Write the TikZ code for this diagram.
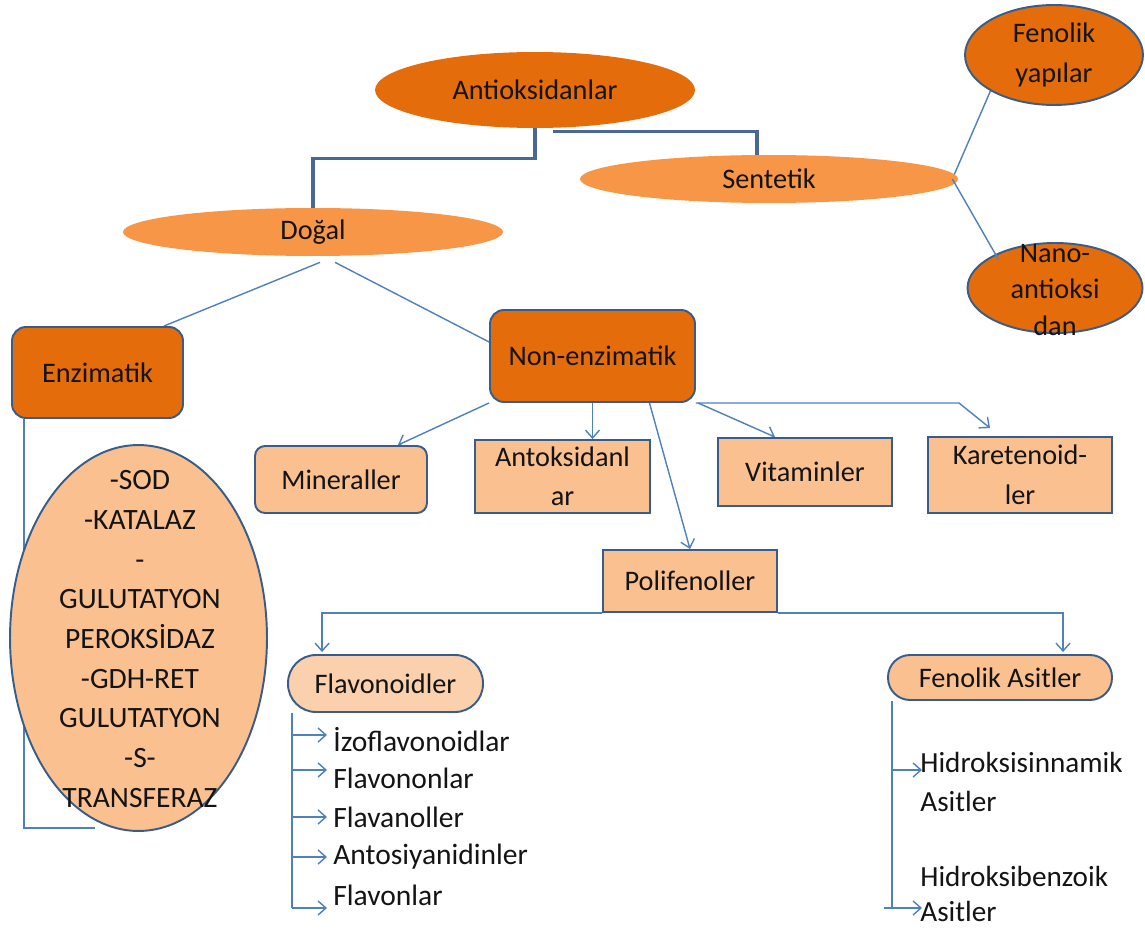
\documentclass[tikz,border=0pt]{standalone}
\usepackage{fontspec}
\setmainfont{Carlito}
\usetikzlibrary{shapes.geometric,arrows.meta,calc}
\definecolor{darkor}{HTML}{E46C0A}
\definecolor{midor}{HTML}{F79646}
\definecolor{lightor}{HTML}{FAC090}
\definecolor{paleor}{HTML}{FBD0AC}
\definecolor{bordc}{HTML}{385D8A}
\definecolor{linec}{HTML}{4F81BD}
\definecolor{trunkc}{HTML}{4A6896}
\pgfdeclarelayer{bg}
\pgfdeclarelayer{canvas}
\pgfsetlayers{canvas,bg,main}
\begin{document}
\begin{tikzpicture}[x=0.02cm,y=-0.02cm,
  every node/.style={font=\fontsize{16.1}{22.5}\selectfont, text=black!92},
  ell/.style={ellipse, inner sep=0pt, align=center},
  box/.style={rectangle, draw=bordc, line width=1.1pt, fill=lightor, inner sep=0pt, align=center},
  conn/.style={draw=linec, line width=0.8pt},
  arr/.style={conn, -{Straight Barb[length=4.5pt,width=8pt]}},
  mainconn/.style={draw=trunkc, line width=1.8pt},
  item/.style={anchor=west, inner sep=0pt, align=left},
  bigitem/.style={item, font=\fontsize{16.8}{22.5}\selectfont}
]
\begin{pgfonlayer}{canvas}
\fill[white] (0,0) rectangle (1145,932);
\end{pgfonlayer}
\useasboundingbox (0,0) rectangle (1145,932);

% top level
\node[ell, fill=darkor, minimum width=6.4cm, minimum height=1.52cm] (anti) at (535,90) {Antioksidanlar};
\node[ell, fill=midor, minimum width=7.56cm, minimum height=0.96cm] (sent) at (769,179) {Sentetik};
\node[ell, fill=midor, minimum width=7.6cm, minimum height=0.96cm] (dogal) at (313,232) {Doğal};
\node[ell, fill=darkor, draw=bordc, line width=1.1pt, minimum width=3.56cm, minimum height=2cm] (fenyap) at (1054,55) {Fenolik\\yapılar};
\node[ell, fill=darkor, draw=bordc, line width=1.1pt, minimum width=3.5cm, minimum height=1.8cm] (nano) at (1055,288) {};
\node[align=center, inner sep=0pt, font=\fontsize{16.1}{21}\selectfont] (nanotxt) at (1055,290) {Nano-\\antioksi\\dan};

% second level
\node[box, fill=darkor, rounded corners=0.28cm, minimum width=3.42cm, minimum height=1.82cm] (enz) at (97.5,372.5) {Enzimatik};
\node[box, fill=darkor, rounded corners=0.28cm, minimum width=4.1cm, minimum height=1.84cm] (nonenz) at (592.5,356) {Non-enzimatik};

% non-enzimatik children
\node[box, rounded corners=0.2cm, minimum width=3.44cm, minimum height=1.34cm] (miner) at (341,479.5) {Mineraller};
\node[box, minimum width=3.5cm, minimum height=1.46cm] (antoks) at (562.5,476.5) {Antoksidanl\\ar};
\node[box, minimum width=3.48cm, minimum height=1.36cm] (vit) at (805,472) {Vitaminler};
\node[box, minimum width=3.68cm, minimum height=1.52cm] (karet) at (1020,475) {Karetenoid-\\ler};
\node[box, minimum width=3.48cm, minimum height=1.24cm] (poli) at (690,581) {Polifenoller};

% polifenol children
\node[box, fill=paleor, rounded corners=0.56cm, minimum width=3.9cm, minimum height=1.14cm] (flav) at (385.5,683.5) {Flavonoidler};
\node[box, rounded corners=0.44cm, minimum width=4.48cm, minimum height=0.9cm] (fen) at (1000,677.5) {Fenolik Asitler};

% enzyme ellipse
\node[ell, fill=lightor, draw=bordc, line width=1.1pt, minimum width=5.14cm, minimum height=7.72cm] (enzell) at (138.5,638) {};
\node[align=center, inner sep=0pt, font=\fontsize{16.8}{22.6}\selectfont] (enztxt) at (140,639) {-SOD\\-KATALAZ\\-\\GULUTATYON\\PEROKSİDAZ\\-GDH-RET\\GULUTATYON\\-S-\\TRANSFERAZ};
\coordinate (enzend) at (95,828);

% flavonoid list
\node[bigitem] (f1) at (333,740) {İzoflavonoidlar};
\node[bigitem] (f2) at (333,778) {Flavononlar};
\node[bigitem] (f3) at (333,817) {Flavanoller};
\node[bigitem] (f4) at (333,857) {Antosiyanidinler};
\node[bigitem] (f5) at (333,895) {Flavonlar};

% fenolik asit list
\node[item, font=\fontsize{16.6}{22.5}\selectfont] (h1) at (920,782) {Hidroksisinnamik\\Asitler};
\node[item, font=\fontsize{16.6}{20}\selectfont] (h2) at (920,894) {Hidroksibenzoik\\Asitler};

\begin{pgfonlayer}{bg}
  \draw[mainconn] (anti.south) -- ++(0,30) -| (dogal.north);
  \draw[mainconn] ($(anti.south)+(18,3)$) -| ($(sent.north)+(-12,0)$);
  \draw[conn] ($(sent.east)+(-6,0)$) -- (fenyap.south west);

  \draw[conn] ($(dogal.south)+(7,6)$) -- ($(enz.north east)+(-20,0)$);
  \draw[conn] ($(dogal.south)+(22,6)$) -- ($(nonenz.west)+(0,-14)$);

  \draw[arr] (nonenz.south west) -- ($(miner.north east)+(-30,0)$);
  \draw[arr] (nonenz.south) -- (nonenz.south |- antoks.north);
  \draw[arr] ($(nonenz.south east)+(2,0)$) -- ($(vit.north)+(-30,0)$);
  \draw[arr] (nonenz.south east) -- ++(263,0) -- ($(karet.north)+(-30,-8)$);
  \draw[arr] ($(nonenz.south)+(57,0)$) -- (poli.north);

  \draw[arr] (poli.south west) -| ($(flav.north west)+(35,-2)$);
  \draw[arr] (poli.south east) -| ($(fen.north)+(63,-2)$);

  \draw[conn] ($(enz.south west)+(13,0)$) |- (enzend);

  \draw[conn] ($(flav.south west)+(5,0)$) coordinate (ftop) -- ($(ftop |- f5.west)+(0,13)$);
  \draw[arr] ($(ftop |- f1.west)+(0,-5)$) -- ($(f1.west)+(-6,-5)$);
  \draw[arr] ($(ftop |- f2.west)+(0,-8)$) -- ($(f2.west)+(-6,-8)$);
  \draw[arr] ($(ftop |- f3.west)+(0,0)$) -- ($(f3.west)+(-6,0)$);
  \draw[arr] ($(ftop |- f4.west)+(0,0)$) -- ($(f4.west)+(-6,0)$);
  \draw[arr] ($(ftop |- f5.west)+(0,13)$) -- ($(f5.west)+(-6,13)$);

  \draw[conn] ($(fen.south west)+(5,0)$) coordinate (gtop) -- ($(gtop |- h2.west)+(0,14)$);
  \draw[arr] ($(gtop |- h1.west)+(0,-12)$) -- ($(h1.west)+(2,-12)$);
  \draw[arr] ($(gtop |- h2.west)+(-8,14)$) -- ($(h2.west)+(2,14)$);
\end{pgfonlayer}
\draw[conn] ($(sent.east)+(-6,0)$) -- ($(nano.north west)+(6,4)$);
\end{tikzpicture}
\end{document}
